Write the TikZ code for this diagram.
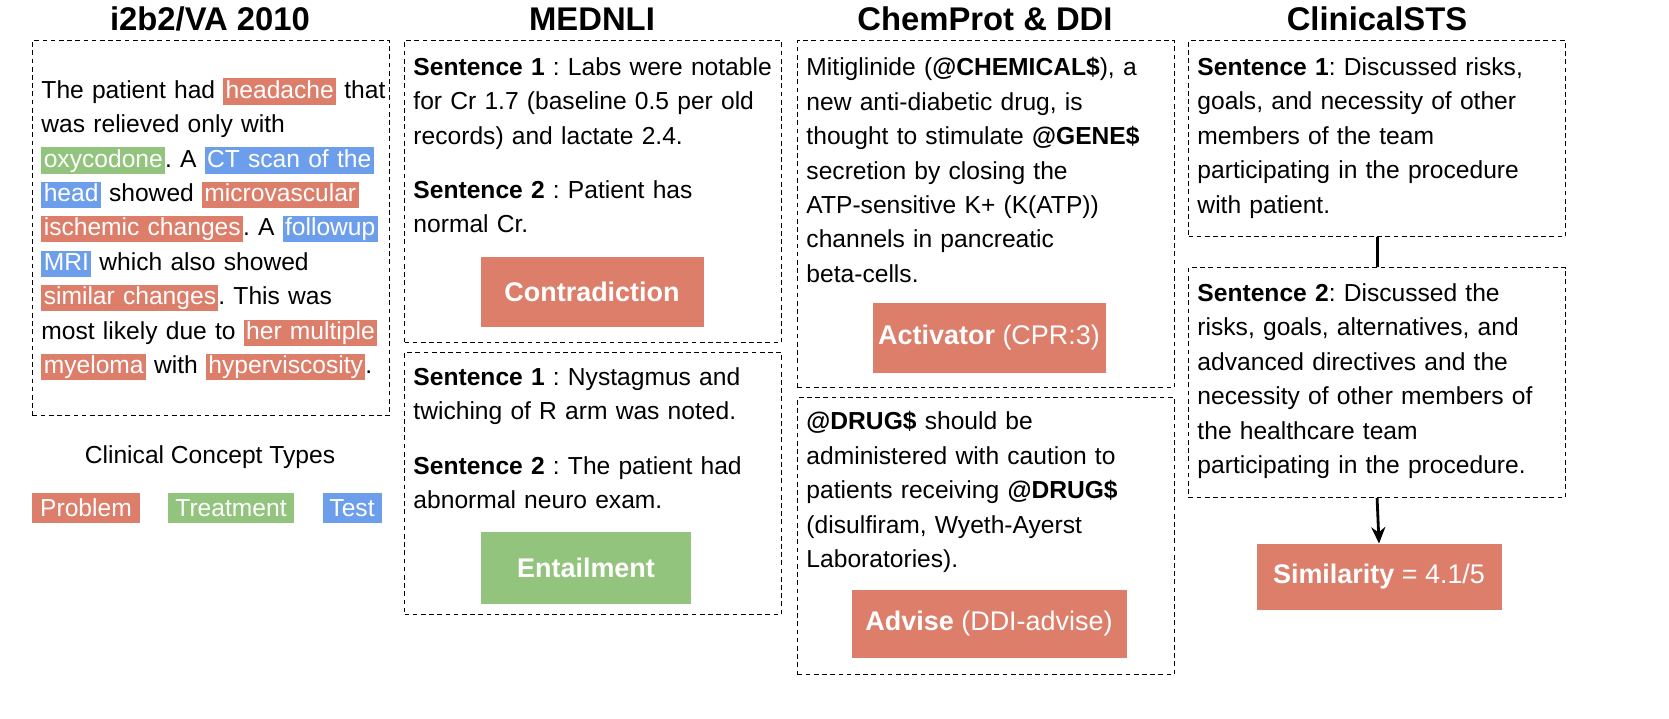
\documentclass[tikz,border=0pt]{standalone}
\usepackage{fontspec}
\setmainfont{Liberation Sans}
\usetikzlibrary{arrows.meta}
\frenchspacing
\definecolor{probred}{HTML}{DD7E6B}
\definecolor{treatgreen}{HTML}{93C47D}
\definecolor{testblue}{HTML}{6D9EEB}
\newcommand\hl[2]{\begingroup\setlength{\fboxsep}{0pt}\colorbox{#1}{\rule[-2.8pt]{0pt}{11.2pt}\hspace{1pt}\textcolor{white}{#2}\hspace{1pt}}\endgroup}
\tikzset{
  dashbox/.style={draw, dash pattern=on 2pt off 1.5pt, line width=0.5pt, anchor=north west, inner sep=0},
  para/.style={anchor=north west, inner sep=0, align=left, text width=5.5cm,
    font=\fontsize{10.5}{14.7}\selectfont},
  title/.style={font=\fontsize{14}{16}\selectfont\bfseries},
  labelbox/.style={fill=#1, text=white, font=\fontsize{11.5}{14}\selectfont, inner sep=0},
  legend/.style={fill=#1, text=white, font=\fontsize{10.5}{13}\selectfont, minimum height=0.45cm, inner sep=0}
}
\begin{document}
\begin{tikzpicture}[x=0.015cm, y=-0.015cm]
  \useasboundingbox (0,0) rectangle (1669,719);
  %titles
  \node[title] (t1) at (210,19) {i2b2/VA 2010};
  \node[title] (t2) at (592,19) {MEDNLI};
  \node[title] (t3) at (985,19) {ChemProt \& DDI};
  \node[title] (t4) at (1377,19) {ClinicalSTS};
  %boxes
  \node[dashbox, minimum width=5.355cm, minimum height=5.625cm] (i2b2) at (32,40) {};
  \node[dashbox, minimum width=5.655cm, minimum height=4.53cm] (nli1) at (404,40) {};
  \node[dashbox, minimum width=5.655cm, minimum height=3.93cm] (nli2) at (404,352) {};
  \node[dashbox, minimum width=5.655cm, minimum height=5.205cm] (chem) at (797,40) {};
  \node[dashbox, minimum width=5.655cm, minimum height=4.155cm] (ddi) at (797,397) {};
  \node[dashbox, minimum width=5.655cm, minimum height=2.94cm] (sts1) at (1188,40) {};
  \node[dashbox, minimum width=5.655cm, minimum height=3.45cm] (sts2) at (1188,267) {};
  %texts
  \node[para] (i2b2txt) at (41,78) {The patient had \hl{probred}{headache} that\\
    was relieved only with\\
    \hl{treatgreen}{oxycodone}. A \hl{testblue}{CT scan of the}\\
    \hl{testblue}{head} showed \hl{probred}{microvascular}\\
    \hl{probred}{ischemic changes}. A \hl{testblue}{followup}\\
    \hl{testblue}{MRI} which also showed\\
    \hl{probred}{similar changes}. This was\\
    most likely due to \hl{probred}{her multiple}\\
    \hl{probred}{myeloma} with \hl{probred}{hyperviscosity}.};
  \node[para] (nli1a) at (413,57) {\textbf{Sentence 1} : Labs were notable\\
    for Cr 1.7 (baseline 0.5 per old\\ records) and lactate 2.4.};
  \node[para] (nli1b) at (413,180) {\textbf{Sentence 2} : Patient has\\ normal Cr.};
  \node[para] (nli2a) at (413,367) {\textbf{Sentence 1} : Nystagmus and\\ twiching of R arm was noted.};
  \node[para] (nli2b) at (413,456) {\textbf{Sentence 2} : The patient had\\ abnormal neuro exam.};
  \node[para] (chemtxt) at (806,57) {Mitiglinide (\textbf{@CHEMICAL\$}), a\\
    new anti-diabetic drug, is\\
    thought to stimulate \textbf{@GENE\$}\\
    secretion by closing the\\
    ATP-sensitive K+ (K(ATP))\\
    channels in pancreatic\\ beta-cells.};
  \node[para] (dditxt) at (806,411) {\textbf{@DRUG\$} should be\\
    administered with caution to\\
    patients receiving \textbf{@DRUG\$}\\
    (disulfiram, Wyeth-Ayerst\\ Laboratories).};
  \node[para] (sts1txt) at (1197,57) {\textbf{Sentence 1}: Discussed risks,\\
    goals, and necessity of other\\
    members of the team\\
    participating in the procedure\\ with patient.};
  \node[para] (sts2txt) at (1197,283) {\textbf{Sentence 2}: Discussed the\\
    risks, goals, alternatives, and\\
    advanced directives and the\\
    necessity of other members of\\
    the healthcare team\\
    participating in the procedure.};
  %labels
  \node[labelbox=probred, minimum width=3.345cm, minimum height=1.05cm] (contra) at (592,292) {\textbf{Contradiction}};
  \node[labelbox=treatgreen, minimum width=3.15cm, minimum height=1.08cm] (entail) at (586,568) {\textbf{Entailment}};
  \node[labelbox=probred, minimum width=3.495cm, minimum height=1.035cm] (activ) at (989,338) {\textbf{Activator} (CPR:3)};
  \node[labelbox=probred, minimum width=4.125cm, minimum height=1.02cm] (advise) at (989,624) {\textbf{Advise} (DDI-advise)};
  \node[labelbox=probred, minimum width=3.675cm, minimum height=0.99cm] (simil) at (1379,577) {\textbf{Similarity} = 4.1/5};
  %legend
  \node[font=\fontsize{10.5}{13}\selectfont] (legtitle) at (210,457) {Clinical Concept Types};
  \node[legend=probred, minimum width=1.605cm] (problem) at (86,508) {Problem};
  \node[legend=treatgreen, minimum width=1.89cm] (treat) at (231,508) {Treatment};
  \node[legend=testblue, minimum width=0.885cm] (test) at (352,508) {Test};
  %connectors
  \draw[line width=1.2pt] (sts1.south) -- (sts2.north);
  \draw[line width=1.2pt, -{Stealth[length=7pt, width=6pt]}] (sts2.south) -- (simil.north);
\end{tikzpicture}
\end{document}
